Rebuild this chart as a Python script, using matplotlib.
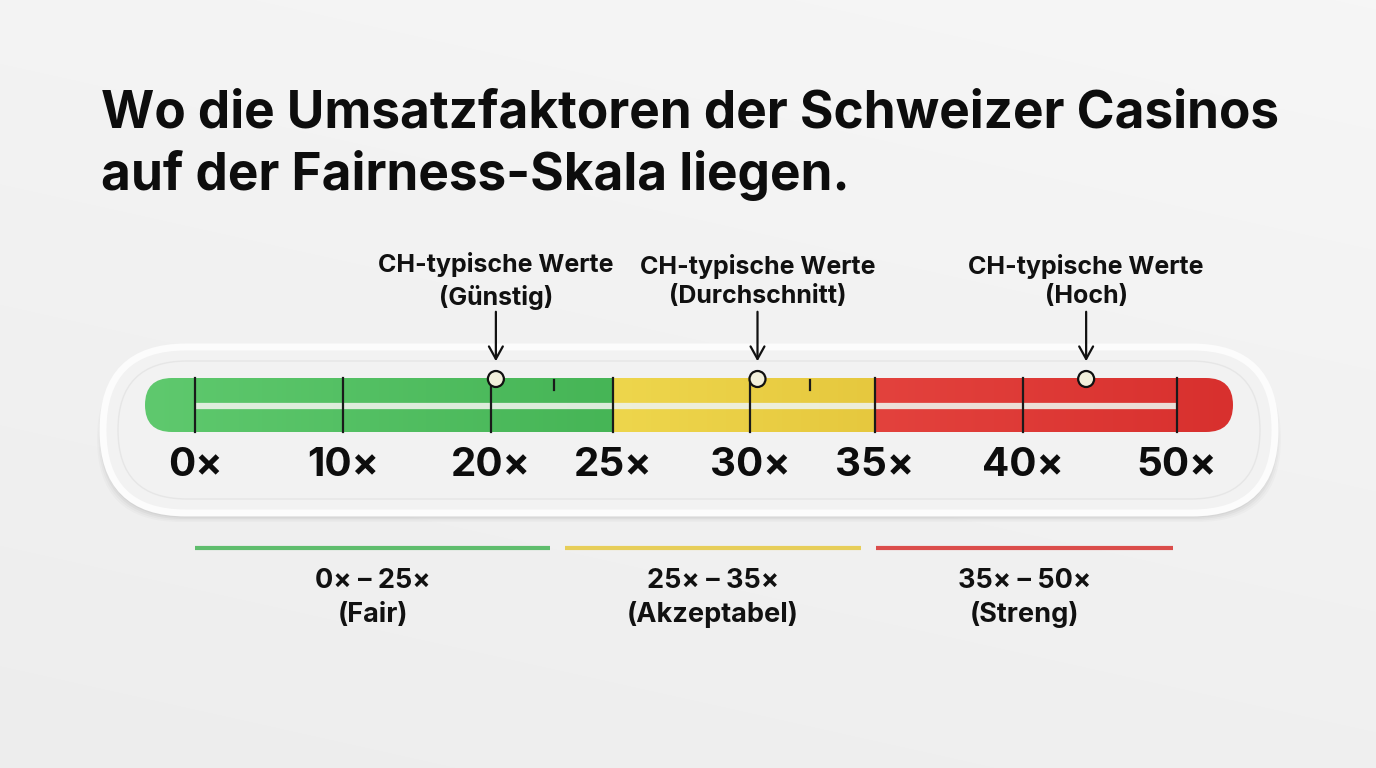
import matplotlib
import numpy as np

matplotlib.use("Agg")
import matplotlib.pyplot as plt  # noqa: E402
from matplotlib.patches import FancyBboxPatch, Circle  # noqa: E402
from matplotlib.colors import to_rgb  # noqa: E402

plt.rcParams["font.family"] = ["Inter", "DejaVu Sans"]

# --- data -------------------------------------------------------------------
title = "Wo die Umsatzfaktoren der Schweizer Casinos\nauf der Fairness-Skala liegen."
tick_values = [0, 10, 20, 25, 30, 35, 40, 50]
minor_values = [22.6, 32.4]
zone_names = ["Fair", "Akzeptabel", "Streng"]
zone_lo = [0, 25, 35]
zone_hi = [25, 35, 50]
zone_colors = [("#5fc96e", "#46b556"), ("#eed64c", "#e6c83e"), ("#e3423d", "#d8302e")]
marker_names = ["Günstig", "Durchschnitt", "Hoch"]
marker_values = [20.2, 30.3, 44.1]

# --- layout (pixel space) ---------------------------------------------------
W, H = 1376, 768
tick_px = [195, 343, 491, 613, 750, 875, 1023, 1177]   # non-linear scale anchors
bar_x0, bar_x1, bar_y0, bar_y1 = 145, 1233, 378, 432
legend_px = [(195, 550), (565, 861), (876, 1173)]


def sx(v):
    return np.interp(v, tick_values, tick_px)


fig = plt.figure(figsize=(W / 100, H / 100), dpi=100)
ax = fig.add_axes([0, 0, 1, 1])
ax.set_xlim(0, W)
ax.set_ylim(H, 0)
ax.axis("off")

# background gradient
yy, xx = np.mgrid[0:H, 0:W]
bg = 0.955 - 0.025 * (yy / H) + 0.01 * (xx / W)
ax.imshow(np.dstack([bg, bg, bg]), extent=(0, W, H, 0), zorder=0)

# title
ax.text(101, 145, title, fontsize=37, fontweight="bold", color="#0d0d0d",
        ha="left", va="center", linespacing=1.28, zorder=5)

# outer pill with soft shadow
for i, a in enumerate([0.02, 0.025, 0.03, 0.035]):
    off = 12 - 3 * i
    sh = FancyBboxPatch((103 - off / 2, 350 + off / 2), 1172 + off, 166,
                        boxstyle="round,pad=0,rounding_size=83",
                        fc="black", ec="none", alpha=a, zorder=1)
    ax.add_patch(sh)
pill = FancyBboxPatch((103, 347), 1172, 166, boxstyle="round,pad=0,rounding_size=83",
                      fc="#f2f2f2", ec="#fcfcfc", lw=5, zorder=2)
ax.add_patch(pill)
inner = FancyBboxPatch((118, 361), 1142, 138, boxstyle="round,pad=0,rounding_size=69",
                       fc="none", ec="#e6e6e6", lw=1.0, zorder=2)
ax.add_patch(inner)

# coloured bar (gradient per zone, clipped to rounded bar)
xs = np.arange(bar_x0, bar_x1)
vals = np.interp(xs, [bar_x0] + tick_px + [bar_x1],
                 [tick_values[0]] + tick_values + [tick_values[-1]])
row = np.zeros((len(xs), 3))
for lo, hi, (c0, c1) in zip(zone_lo, zone_hi, zone_colors):
    m = (vals >= lo) & (vals <= hi)
    if lo == zone_lo[0]:
        m |= xs < sx(lo)
    if hi == zone_hi[-1]:
        m |= xs > sx(hi)
    xm = xs[m]
    t = (xm - xm.min()) / max(xm.max() - xm.min(), 1)
    row[m] = (1 - t)[:, None] * np.array(to_rgb(c0)) + t[:, None] * np.array(to_rgb(c1))
img = np.repeat(row[None, :, :], 2, axis=0)
im = ax.imshow(img, extent=(bar_x0, bar_x1, bar_y1, bar_y0), aspect="auto",
               interpolation="bilinear", zorder=3)
clip = FancyBboxPatch((bar_x0, bar_y0), bar_x1 - bar_x0, bar_y1 - bar_y0,
                      boxstyle="round,pad=0,rounding_size=27", fc="none", ec="none",
                      transform=ax.transData)
ax.add_patch(clip)
im.set_clip_path(clip)

# inner light track
ax.plot([sx(tick_values[0]), sx(tick_values[-1])], [406, 406], color="#eef2ea",
        lw=4.5, alpha=0.9, solid_capstyle="butt", zorder=4)

# ticks + labels
for v in tick_values:
    ax.plot([sx(v), sx(v)], [bar_y0, bar_y1], color="#1a1a1a", lw=1.6, zorder=5)
    ax.text(sx(v), 466, f"{v}×", fontsize=29, fontweight="bold", color="#0d0d0d",
            ha="center", va="center", zorder=5)
for v in minor_values:
    ax.plot([sx(v), sx(v)], [380, 390], color="#1a1a1a", lw=1.6, zorder=5)

# markers with arrows and labels
for name, v in zip(marker_names, marker_values):
    x = sx(v)
    ax.add_patch(Circle((x, 379), 8, fc="#f2f0dc", ec="#111111", lw=1.6, zorder=6))
    ax.annotate("", xy=(x, 364), xytext=(x, 309),
                arrowprops=dict(arrowstyle="->,head_length=0.9,head_width=0.5",
                                color="#111111", lw=1.6), zorder=6)
    ax.text(x, 281, f"CH-typische Werte\n({name})", fontsize=18, fontweight="bold",
            color="#111111", ha="center", va="center", linespacing=1.38, zorder=6)

# legend
for (x0, x1), lo, hi, name, (c0, c1) in zip(legend_px, zone_lo, zone_hi, zone_names, zone_colors):
    ax.plot([x0, x1], [548, 548], color=c1, lw=3, alpha=0.85, solid_capstyle="butt", zorder=5)
    ax.text((x0 + x1) / 2, 598, f"{lo}× – {hi}×\n({name})", fontsize=19.5, fontweight="bold",
            color="#111111", ha="center", va="center", linespacing=1.38, zorder=5)

fig.savefig("out.png", dpi=100)
